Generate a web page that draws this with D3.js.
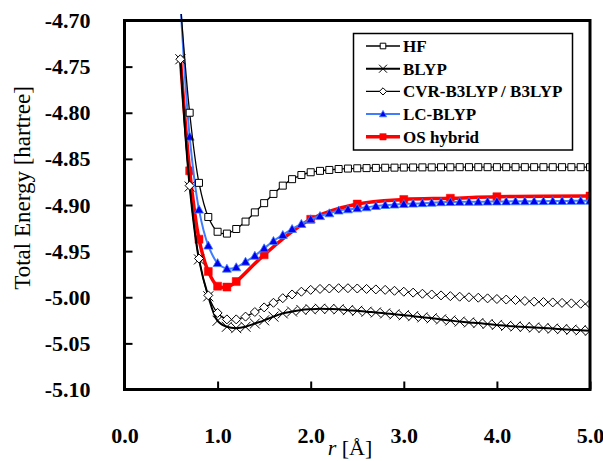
<!DOCTYPE html>
<html>
<head>
<meta charset="utf-8">
<script src="https://cdn.jsdelivr.net/npm/d3@7"></script>
<style>
  html, body { margin: 0; padding: 0; background: #fff; }
  svg { display: block; }
</style>
</head>
<body>
<div id="chart"></div>
<script>
// Potential energy curves (r in Angstrom, E in hartree)

const rGrid = [0.6, 0.7, 0.8, 0.9, 1.0, 1.1, 1.2, 1.3, 1.4, 1.5,
               1.6, 1.7, 1.8, 1.9, 2.0, 2.1, 2.2, 2.3, 2.4, 2.5,
               2.6, 2.7, 2.8, 2.9, 3.0, 3.1, 3.2, 3.3, 3.4, 3.5,
               3.6, 3.7, 3.8, 3.9, 4.0, 4.1, 4.2, 4.3, 4.4, 4.5,
               4.6, 4.7, 4.8, 4.9, 5.0];

const hfE = [-4.680, -4.800, -4.876, -4.913, -4.929, -4.931, -4.926, -4.918, -4.908, -4.898,
             -4.888, -4.879, -4.872, -4.8675, -4.8645, -4.863, -4.862, -4.861, -4.8605, -4.8602,
             -4.860, -4.8598, -4.8596, -4.8595, -4.8594, -4.8593, -4.8592, -4.8592, -4.8591, -4.8591,
             -4.859, -4.859, -4.859, -4.859, -4.859, -4.859, -4.859, -4.859, -4.859, -4.859,
             -4.859, -4.859, -4.859, -4.859, -4.859];

const blypE = [-4.742, -4.880, -4.959, -4.999, -5.0255, -5.032, -5.0335, -5.032, -5.0285, -5.025,
               -5.021, -5.0175, -5.0155, -5.0138, -5.013, -5.0125, -5.0127, -5.013, -5.014, -5.0147,
               -5.0157, -5.0165, -5.0175, -5.0185, -5.0195, -5.0205, -5.0218, -5.0228, -5.024, -5.0252,
               -5.0264, -5.0273, -5.028, -5.029, -5.030, -5.031, -5.0316, -5.0322, -5.0328, -5.0334,
               -5.034, -5.0346, -5.0352, -5.0358, -5.0363];

const cvrE = [-4.742, -4.879, -4.958, -4.998, -5.017, -5.024, -5.024, -5.021, -5.016, -5.011,
              -5.006, -5.001, -4.997, -4.994, -4.992, -4.991, -4.9905, -4.9902, -4.9902, -4.9905,
              -4.991, -4.9915, -4.992, -4.993, -4.994, -4.995, -4.9962, -4.997, -4.998, -4.9988,
              -4.9994, -5.000, -5.0005, -5.0012, -5.0019, -5.0025, -5.003, -5.004, -5.0048, -5.0052,
              -5.0056, -5.0061, -5.0066, -5.007, -5.0073];

const lcE = [-4.680, -4.826, -4.905, -4.944, -4.963, -4.969, -4.9675, -4.9615, -4.955, -4.947,
             -4.939, -4.9325, -4.926, -4.9205, -4.9155, -4.912, -4.909, -4.906, -4.9047, -4.9036,
             -4.9025, -4.901, -4.900, -4.8995, -4.899, -4.8985, -4.898, -4.8975, -4.897, -4.8968,
             -4.8966, -4.8965, -4.8964, -4.8963, -4.8962, -4.8961, -4.896, -4.896, -4.8959, -4.8958,
             -4.8957, -4.8956, -4.8955, -4.8954, -4.8953];

// OS hybrid was computed on a coarser grid; the first point carries no marker in the figure
const osR = [0.6, 0.7, 0.8, 0.9, 1.0, 1.1, 1.2, 1.5, 2.0, 2.5, 3.0, 3.5, 4.0, 5.0];
const osE = [-4.740, -4.863, -4.937, -4.972, -4.988, -4.989, -4.983, -4.954, -4.9155, -4.899,
             -4.894, -4.8927, -4.891, -4.8903];

const seriesNames = ['HF', 'BLYP', 'CVR-B3LYP / B3LYP', 'LC-BLYP', 'OS hybrid'];
const xTicks = [0, 1, 2, 3, 4, 5];
const yTicks = [-4.70, -4.75, -4.80, -4.85, -4.90, -4.95, -5.00, -5.05, -5.10];

const W = 603, H = 461;
const plot = { left: 124.5, right: 590, top: 20.5, bottom: 389.5 };

const svg = d3.select('#chart').append('svg')
    .attr('width', W)
    .attr('height', H)
    .style('font-family', '"Liberation Serif", "Times New Roman", serif');

const x = d3.scaleLinear().domain([0, 5]).range([plot.left, plot.right]);
const y = d3.scaleLinear().domain([-5.10, -4.70]).range([plot.bottom, plot.top]);

// marker shapes
const mk = {
    square: 'M-3.5,-3.5H3.5V3.5H-3.5Z',
    cross: 'M-5,-5L5,5M-5,5L5,-5',
    diamond: 'M0,-4.5L4.5,0L0,4.5L-4.5,0Z',
    triangle: 'M0,-4.5L4.5,3.5L-4.5,3.5Z',
    fsquare: 'M-4,-4H4V4H-4Z'
};

const series = [
    { name: seriesNames[4], r: osR, e: osE, line: '#ff0000', lw: 3.5, marker: mk.fsquare, fill: '#ff0000', stroke: '#ff0000', msw: 0.5, skipFirst: true },
    { name: seriesNames[3], r: rGrid, e: lcE, line: '#3f7cff', lw: 2, marker: mk.triangle, fill: '#0000ee', stroke: '#3f7cff', msw: 0.8 },
    { name: seriesNames[0], r: rGrid, e: hfE, line: '#000', lw: 1.3, marker: mk.square, fill: '#fff', stroke: '#000', msw: 1 },
    { name: seriesNames[1], r: rGrid, e: blypE, line: '#000', lw: 2, marker: mk.cross, fill: 'none', stroke: '#000', msw: 1 },
    { name: seriesNames[2], r: rGrid, e: cvrE, line: '#000', lw: 1.3, marker: mk.diamond, fill: '#fff', stroke: '#000', msw: 1 }
];

svg.append('defs').append('clipPath')
    .attr('id', 'clip')
    .append('rect')
    .attr('x', plot.left)
    .attr('y', 14)
    .attr('width', plot.right - plot.left)
    .attr('height', plot.bottom - 14);

const line = d3.line()
    .x(d => x(d[0]))
    .y(d => y(d[1]))
    .curve(d3.curveCatmullRom.alpha(0.5));

const plotG = svg.append('g').attr('clip-path', 'url(#clip)');

series.forEach(s => {
    const pts = s.r.map((r, i) => [r, s.e[i]]);
    plotG.append('path')
        .attr('d', line(pts))
        .attr('fill', 'none')
        .attr('stroke', s.line)
        .attr('stroke-width', s.lw)
        .attr('stroke-linejoin', 'round');
    plotG.selectAll(null)
        .data(s.skipFirst ? pts.slice(1) : pts)
        .join('path')
        .attr('transform', d => `translate(${x(d[0])},${y(d[1])})`)
        .attr('d', s.marker)
        .attr('fill', s.fill)
        .attr('stroke', s.stroke)
        .attr('stroke-width', s.msw);
});

// axes (ticks point inward)
const yAxis = d3.axisLeft(y)
    .tickValues(yTicks)
    .tickSize(-8)
    .tickPadding(34)
    .tickFormat(d => d.toFixed(2));

const xAxis = d3.axisBottom(x)
    .tickValues(xTicks)
    .tickSize(-8)
    .tickPadding(38)
    .tickFormat(d => d.toFixed(1));

const gy = svg.append('g')
    .attr('transform', `translate(${plot.left},0)`)
    .call(yAxis);
const gx = svg.append('g')
    .attr('transform', `translate(0,${plot.bottom})`)
    .call(xAxis);

[gx, gy].forEach(g => {
    g.select('.domain').remove();
    g.selectAll('line').attr('stroke', '#000').attr('stroke-width', 2);
    g.selectAll('text')
        .attr('fill', '#000')
        .style('font-family', '"Liberation Serif", serif')
        .style('font-size', '22px')
        .style('font-weight', 'bold');
});

// frame
svg.append('rect')
    .attr('x', plot.left)
    .attr('y', plot.top)
    .attr('width', plot.right - plot.left)
    .attr('height', plot.bottom - plot.top)
    .attr('fill', 'none')
    .attr('stroke', '#000')
    .attr('stroke-width', 3);

// axis titles
svg.append('text')
    .attr('transform', 'translate(30,188) rotate(-90)')
    .attr('text-anchor', 'middle')
    .style('font-size', '23px')
    .text('Total Energy [hartree]');

const xt = svg.append('text')
    .attr('x', 350)
    .attr('y', 455)
    .attr('text-anchor', 'middle')
    .style('font-size', '22px');
xt.append('tspan').style('font-style', 'italic').text('r');
xt.append('tspan').text(' [Å]');

// legend
const legend = svg.append('g');
legend.append('rect')
    .attr('x', 353.5)
    .attr('y', 33.5)
    .attr('width', 219)
    .attr('height', 116.5)
    .attr('fill', '#fff')
    .attr('stroke', '#000')
    .attr('stroke-width', 1.5);

const legendOrder = [2, 3, 4, 1, 0]; // indexes into series, legend reads HF..OS
const legendY = [46, 68.7, 91.4, 114, 136.8];

legendOrder.forEach((si, i) => {
    const s = series[si];
    const ly = legendY[i];
    const g = legend.append('g');
    g.append('line')
        .attr('x1', 366).attr('x2', 400)
        .attr('y1', ly).attr('y2', ly)
        .attr('stroke', s.line)
        .attr('stroke-width', s.lw);
    g.append('path')
        .attr('transform', `translate(383,${ly}) scale(0.8)`)
        .attr('d', s.marker)
        .attr('fill', s.fill)
        .attr('stroke', s.stroke)
        .attr('stroke-width', s.msw * 1.25);
    g.append('text')
        .attr('x', 403)
        .attr('y', ly + 6)
        .style('font-size', '17px')
        .style('font-weight', 'bold')
        .text(s.name);
});
</script>
</body>
</html>
